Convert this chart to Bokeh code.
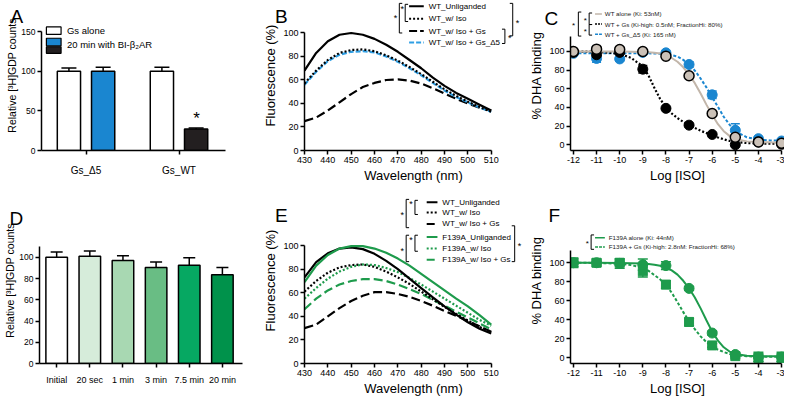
from bokeh.plotting import figure
from bokeh.layouts import row, column
from bokeh.models import FixedTicker, Label, Range1d, Title
from bokeh.embed import file_html
from bokeh.resources import INLINE

FONT = "Liberation Sans"

# ---------------- Panel A data ----------------
a_groups = ["Gs_Δ5", "Gs_WT"]
a_series = ["Gs alone", "20 min with BI-β₂AR"]
a_gs_alone = [100, 100]
a_gs_alone_err = [4, 5]
a_with_bi = [100, 27]
a_with_bi_err = [5, 1.5]
a_yticks = [0, 50, 100, 150]

# ---------------- Panels B / E data ----------------
wavelength = [430, 435, 440, 445, 450, 455, 460, 465, 470, 475, 480, 485, 490, 495, 500, 505, 510]
wl_ticks = [430, 440, 450, 460, 470, 480, 490, 500, 510]
pct_ticks = [0, 20, 40, 60, 80, 100]

b_names = ["WT_Unliganded", "WT_w/ Iso", "WT_w/ Iso + Gs", "WT_w/ Iso + Gs_Δ5"]
b_wt_unlig = [68, 83, 93, 98.5, 100, 98.5, 95, 90, 84, 77, 70, 62, 55, 49, 44, 39, 34]
b_wt_iso = [57, 68, 77, 83, 85.5, 86, 84.5, 81, 76.5, 71, 65, 58.5, 52, 46.5, 41.5, 37, 33]
b_wt_iso_gs = [25, 28, 34, 41, 48, 54, 57.5, 60, 60.5, 59.5, 57, 53, 48.5, 44, 40, 36.5, 34]
b_wt_iso_gs_d5 = [56, 67, 76, 81.5, 84, 84.5, 83.5, 80, 75.5, 70, 64, 57.5, 51, 45.5, 41, 36.5, 33]

e_names = ["WT_Unliganded", "WT_w/ Iso", "WT_w/ Iso + Gs",
           "F139A_Unliganded", "F139A_w/ Iso", "F139A_w/ Iso + Gs"]
e_wt_unlig = [73, 86, 93.5, 97.5, 98.5, 97, 93, 87, 80, 72, 64, 56, 48.5, 41.5, 35, 29.5, 25.5]
e_wt_iso = [61, 70, 77, 81.5, 83.5, 84, 82, 78, 73, 67.5, 61, 54.5, 48, 42, 36.5, 31, 26.5]
e_wt_iso_gs = [30, 33, 40, 47, 53, 57.5, 60.5, 60.5, 59, 56.5, 53, 49, 44.5, 40.5, 36, 31.5, 27]
e_f_unlig = [69, 83, 92, 97.5, 99.5, 99.5, 97.5, 94, 89, 83, 76, 69, 62, 55, 48.5, 41, 33]
e_f_iso = [55, 64, 72, 78, 82, 84, 83.5, 81, 77.5, 72.5, 67, 61, 55, 49, 43, 37, 32]
e_f_iso_gs = [46, 55, 62, 67, 70, 71.5, 71.5, 70, 67, 63, 59, 54, 49, 44, 39, 34, 29]

# ---------------- Panels C / F data ----------------
log_iso = [-12, -11, -10, -9, -8, -7, -6, -5, -4, -3]
iso_labels = ["-12", "-11", "-10", "-9", "-8", "-7", "-6", "-5", "-4", "-3"]
fit_log_iso = [-12, -11, -10, -9.5, -9, -8.75, -8.5, -8.25, -8, -7.75, -7.5, -7.25, -7,
               -6.75, -6.5, -6.25, -6, -5.75, -5.5, -5.25, -5, -4.5, -4, -3.5, -3]

c_names = ["WT alone (Ki: 53nM)", "WT + Gs (Ki-high: 0.5nM; FractionHi: 80%)", "WT + Gs_Δ5 (Ki: 165 nM)"]
c_wt_alone = [100, 102.5, 102, 100, 95, 74, 33.5, 8, 3, 1.5]
c_wt_alone_err = [1, 2, 3, 1, 1, 1, 1.5, 1, 1, 1]
c_wt_gs = [99, 96.5, 99, 81, 39, 21, 11, 0, 3, 0.5]
c_wt_gs_err = [1, 2, 2, 4, 1, 1, 1, 1, 1, 1]
c_wt_gs_d5 = [98, 92.5, 92, 99, 98.5, 86, 53.5, 15.5, 6.5, 4]
c_wt_gs_d5_err = [1, 4, 2, 1, 1, 3, 4, 7, 2, 2]
c_fit_wt_alone = [100, 100, 100, 99.8, 99.5, 99.2, 98.6, 97.7, 96, 93, 89, 83, 75,
                  66, 55, 43, 32, 22, 14.5, 9.5, 6.2, 3.6, 2.8, 2.6, 2.5]
c_fit_wt_gs = [100, 99.8, 97.5, 93, 84, 74, 61, 49, 40, 33.5, 28.5, 24.5, 21,
               18, 15, 12.5, 10, 7.8, 5.8, 4.2, 3, 1.8, 1.3, 1.1, 1]
c_fit_wt_gs_d5 = [98, 98, 98, 98, 98, 98, 97.8, 97.5, 97, 96, 94.5, 91, 86,
                  79.5, 71, 61.5, 51, 40.5, 30, 21.5, 14.5, 8, 5.5, 4.6, 4.3]

f_names = ["F139A alone (Ki: 44nM)", "F139A + Gs (Ki-high: 2.8nM: FractionHi: 68%)"]
f_alone = [100, 100, 99.3, 98, 97, 73, 26, 3.4, 0.7, 0.7]
f_alone_err = [5, 4, 5, 6, 4, 2, 2, 2, 5, 5]
f_gs = [100, 100, 100, 91, 77, 37.7, 13, 1.7, 0, 0]
f_gs_err = [4, 3, 3, 6, 4, 4, 2, 2, 4, 4]
f_fit_alone = [100, 100, 99.8, 99.6, 99.2, 98.7, 98, 96.8, 95, 92, 87.5, 81, 73,
               63.5, 52, 39.5, 27.5, 18, 11, 6.5, 4, 2.2, 1.7, 1.5, 1.5]
f_fit_gs = [100, 99.8, 99, 97.5, 94.5, 91.5, 87, 82.5, 76.5, 68.5, 58.5, 48, 38.5,
            30, 22.5, 16.5, 12, 8.5, 6, 4, 2.8, 1.6, 1.1, 1, 1]

# ---------------- Panel D data ----------------
d_times = ["Initial", "20 sec", "1 min", "3 min", "7.5 min", "20 min"]
d_vals = [100, 101, 97, 90.5, 92.5, 83.5]
d_err = [5, 5, 4.5, 5, 7, 7]
d_colors = ["#ffffff", "#d6ecda", "#a8d8b2", "#69bd84", "#06a862", "#00924b"]

BLUE = "#1a86d0"
BLUE_L = "#2f9fe4"
DARK = "#231f20"
GREEN = "#1e9b4c"
TAN_FILL = "#cbc1b7"
TAN_LINE = "#c2b6aa"

# ---------------- layout helpers ----------------
SX = 784 / 800
SY = 399 / 415


def PX(rx):
    return 8 + SX * rx


def PY(ry):
    return 8 + SY * ry


class Panel:
    def __init__(self, box, frame, xcal, ycal):
        self.xcal, self.ycal = xcal, ycal
        L, T, R, B = round(PX(box[0])), round(PY(box[1])), round(PX(box[2])), round(PY(box[3]))
        fl, ft, fr, fb = round(PX(frame[0])), round(PY(frame[1])), round(PX(frame[2])), round(PY(frame[3]))
        self.L, self.T, self.fl, self.ft = L, T, fl, ft
        p = figure(width=R - L, height=B - T, title=None,
                   x_range=Range1d(self.X(frame[0]), self.X(frame[2])),
                   y_range=Range1d(self.Y(frame[3]), self.Y(frame[1])),
                   min_border_left=fl - L, min_border_right=R - fr,
                   min_border_top=ft - T, min_border_bottom=B - fb,
                   output_backend="svg", toolbar_location=None, tools="")
        p.outline_line_color = None
        p.xgrid.visible = False
        p.ygrid.visible = False
        p.background_fill_color = "white"
        p.border_fill_color = "white"
        self.p = p

    def X(self, rx):
        (p1, v1), (p2, v2) = self.xcal
        return v1 + (rx - p1) * (v2 - v1) / (p2 - p1)

    def Y(self, ry):
        (p1, v1), (p2, v2) = self.ycal
        return v1 + (ry - p1) * (v2 - v1) / (p2 - p1)

    def text(self, rx, ry, s, size, align="left", baseline="middle", color="black", bold=False):
        self.p.add_layout(Label(x=self.X(rx), y=self.Y(ry), text=s, text_font=FONT,
                                text_font_size=f"{size}px", text_align=align,
                                text_baseline=baseline, text_color=color,
                                text_font_style="bold" if bold else "normal"))

    def star(self, rx, ry, size=9):
        self.text(rx, ry + 0.22 * size, "*", size, align="center")

    def letter(self, s, rx, ry_cap_bottom, size=19):
        # panel letter drawn as a Title in the "above" panel (not clipped to the frame)
        sy = PY(ry_cap_bottom) + 0.21 * size + 5
        standoff = -2 * (sy - self.ft)
        offset = PX(rx) - self.fl + 7
        self.p.add_layout(Title(text=s, align="left", vertical_align="bottom",
                                standoff=standoff, offset=offset, text_font=FONT,
                                text_font_size=f"{size}px", text_font_style="normal",
                                text_color="black"), "above")

    def bracket(self, rx, ry0, ry1, d=1, arm=3):
        X, Y = self.X, self.Y
        self.p.line([X(rx + d * arm), X(rx), X(rx), X(rx + d * arm)],
                    [Y(ry0), Y(ry0), Y(ry1), Y(ry1)], line_color="black", line_width=1)

    def sample(self, rx0, rx1, ry, color, dash="solid", width=2):
        self.p.line([self.X(rx0), self.X(rx1)], [self.Y(ry), self.Y(ry)],
                    line_color=color, line_dash=dash, line_width=width)

    def axes(self, xticks, yticks, xbounds, ybounds, xlabel=None, ylabel=None,
             xoverrides=None, xtick_size=9, ytick_size=9, label_size=13,
             x_standoff=2, ylabel_standoff=2):
        p = self.p
        for ax in (p.xaxis[0], p.yaxis[0]):
            ax.axis_line_width = 1.5
            ax.axis_line_color = "black"
            ax.major_tick_line_width = 1.5
            ax.major_tick_line_color = "black"
            ax.major_tick_out = 4
            ax.major_tick_in = 0
            ax.minor_tick_line_color = None
            ax.major_label_text_font = FONT
            ax.major_label_text_color = "black"
            ax.axis_label_text_font = FONT
            ax.axis_label_text_font_style = "normal"
            ax.axis_label_text_font_size = f"{label_size}px"
            ax.axis_label_text_color = "black"
            ax.major_label_standoff = 2
            ax.axis_label_standoff = 2
        p.yaxis[0].axis_label_standoff = ylabel_standoff
        p.xaxis[0].major_label_standoff = x_standoff
        p.xaxis[0].major_label_text_font_size = f"{xtick_size}px"
        p.yaxis[0].major_label_text_font_size = f"{ytick_size}px"
        p.xaxis[0].ticker = FixedTicker(ticks=xticks)
        p.yaxis[0].ticker = FixedTicker(ticks=yticks)
        p.xaxis[0].bounds = xbounds
        p.yaxis[0].bounds = ybounds
        if xoverrides:
            p.xaxis[0].major_label_overrides = xoverrides
        if xlabel:
            p.xaxis[0].axis_label = xlabel
        if ylabel:
            p.yaxis[0].axis_label = ylabel


def up_errors(p, xs, tops, errs, cap):
    p.segment(x0=xs, y0=tops, x1=xs, y1=[t + e for t, e in zip(tops, errs)],
              line_color="black", line_width=1.5)
    p.scatter(xs, [t + e for t, e in zip(tops, errs)], marker="dash", size=cap,
              line_color="black", line_width=1.5)


def both_errors(p, xs, ys, errs, color, cap=9):
    lo = [y - e for y, e in zip(ys, errs)]
    hi = [y + e for y, e in zip(ys, errs)]
    p.segment(x0=xs, y0=lo, x1=xs, y1=hi, line_color=color, line_width=1.5)
    p.scatter(xs + xs, lo + hi, marker="dash", size=cap, line_color=color, line_width=1.5)


# ================= Panel A =================
A = Panel(box=(0, 0, 265, 205), frame=(42, 0, 230, 159),
          xcal=((87.5, 0), (182.5, 1)), ycal=((159, 0), (33, 150)))
pa = A.p
a_x = list(range(len(a_groups)))
A.axes(a_x, a_yticks, (A.X(42), A.X(230)), (0, 150),
       ylabel="Relative [³H]GDP counts", label_size=10.5, ytick_size=8.5,
       xoverrides={i: g for i, g in enumerate(a_groups)}, xtick_size=10, x_standoff=10,
       ylabel_standoff=0)
xa1 = [x - 0.184 for x in a_x]
xa2 = [x + 0.184 for x in a_x]
pa.vbar(x=xa1, top=a_gs_alone, width=0.25, fill_color="white", line_color="black", line_width=1.5)
pa.vbar(x=xa2, top=a_with_bi, width=0.25, fill_color=[BLUE, DARK], line_color="black", line_width=1.5)
up_errors(pa, xa1, a_gs_alone, a_gs_alone_err, 15)
up_errors(pa, xa2, a_with_bi, a_with_bi_err, 15)
for (y0, y1), col in zip([(28, 36), (40, 48), (49, 56)], ["white", BLUE, DARK]):
    pa.quad(left=A.X(47), right=A.X(62), bottom=A.Y(y1), top=A.Y(y0),
            fill_color=col, line_color="black", line_width=1.2)
A.text(68, 32, a_series[0], 9.5)
A.text(68, 46.5, a_series[1], 9.5)
A.star(200.5, 121, 17)
A.letter("A", 3, 18)

# ================= Panel B =================
Bp = Panel(box=(265, 0, 537, 205), frame=(310, 0, 533, 157),
           xcal=((310, 430), (501, 510)), ycal=((157, 0), (34, 100)))
pb = Bp.p
Bp.axes(wl_ticks, pct_ticks, (430, 510), (0, 100),
        xlabel="Wavelength (nm)", ylabel="Fluorescence (%)")
pb.line(wavelength, b_wt_iso_gs, line_color="black", line_width=2.2, line_dash="9 4")
pb.line(wavelength, b_wt_iso_gs_d5, line_color=BLUE_L, line_width=2.2, line_dash="5 2")
pb.line(wavelength, b_wt_iso, line_color="black", line_width=2.2, line_dash="2 2")
pb.line(wavelength, b_wt_unlig, line_color="black", line_width=2.2)
b_rows = [6, 19, 32, 44]
b_styles = [("black", "solid"), ("black", "2 2"), ("black", "8 3"), (BLUE_L, "5 2")]
for ry, name, (col, dash) in zip(b_rows, b_names, b_styles):
    Bp.sample(417, 432, ry, col, dash)
    Bp.text(437, ry, name, 8)
Bp.bracket(407, 3, 34, 1)
Bp.star(403, 16, 9)
Bp.bracket(413, 4, 22, 1)
Bp.star(410, 7, 9)
Bp.bracket(523, 3, 37, -1)
Bp.star(528, 22, 9)
Bp.bracket(515, 30, 45, -1)
Bp.star(520, 37, 9)
Bp.letter("B", 273, 18)

# ================= Panel C =================
C = Panel(box=(537, 0, 800, 205), frame=(582, 0, 800, 156),
          xcal=((585, -12), (797, -3)), ycal=((150, 0), (53, 100)))
pc = C.p
C.axes(log_iso, pct_ticks, (C.X(582), -3), (C.Y(156), C.Y(37)),
       xlabel="Log [ISO]", ylabel="% DHA binding",
       xoverrides={v: s for v, s in zip(log_iso, iso_labels)})
pc.line(fit_log_iso, c_fit_wt_gs_d5, line_color=BLUE, line_width=2, line_dash="3 2")
pc.line(fit_log_iso, c_fit_wt_gs, line_color="black", line_width=2.2, line_dash="2 2")
pc.line(fit_log_iso, c_fit_wt_alone, line_color=TAN_LINE, line_width=2)
both_errors(pc, log_iso, c_wt_gs_d5, c_wt_gs_d5_err, BLUE)
both_errors(pc, log_iso, c_wt_gs, c_wt_gs_err, "black")
both_errors(pc, log_iso, c_wt_alone, c_wt_alone_err, "black")
pc.scatter(log_iso, c_wt_gs_d5, size=10, fill_color=BLUE, line_color=BLUE)
pc.scatter(log_iso, c_wt_gs, size=10, fill_color="black", line_color="black")
pc.scatter(log_iso, c_wt_alone, size=10, fill_color=TAN_FILL, line_color="black", line_width=1.5)
c_rows = [14, 24.5, 35]
c_styles = [(TAN_LINE, "solid"), ("black", "2 1"), (BLUE, "3 1")]
for ry, name, (col, dash) in zip(c_rows, c_names, c_styles):
    C.sample(607, 614, ry, col, dash, 1.5)
    C.text(617, ry, name, 6.2, color="#222222")
C.bracket(590, 12, 37, 1)
C.star(585, 24.5, 8)
C.bracket(601, 13, 25, 1)
C.bracket(601, 25, 36, 1)
C.star(597, 19, 8)
C.star(597, 30, 8)
C.letter("C", 548, 20)

# ================= Panel D =================
D = Panel(box=(0, 205, 265, 415), frame=(40, 205, 247, 380.7),
          xcal=((57.5, 0), (226.5, 5)), ycal=((380.7, 0), (268.3, 100)))
pd_ = D.p
d_x = list(range(len(d_times)))
D.axes(d_x, pct_ticks, (D.X(40), D.X(247)), (0, 110),
       ylabel="Relative [³H]GDP counts", label_size=10.5, ytick_size=8.5,
       xoverrides={i: t for i, t in enumerate(d_times)}, x_standoff=7,
       ylabel_standoff=0)
pd_.vbar(x=d_x, top=d_vals, width=0.65, fill_color=d_colors, line_color="black", line_width=1.5)
up_errors(pd_, d_x, d_vals, d_err, 12)
D.letter("D", 2, 228)

# ================= Panel E =================
E = Panel(box=(265, 205, 537, 415), frame=(310, 205, 533, 381),
          xcal=((310, 430), (501, 510)), ycal=((381, 0), (256, 100)))
pe = E.p
E.axes(wl_ticks, pct_ticks, (430, 510), (0, 100),
       xlabel="Wavelength (nm)", ylabel="Fluorescence (%)")
pe.line(wavelength, e_wt_iso_gs, line_color="black", line_width=2.2, line_dash="9 4")
pe.line(wavelength, e_f_iso_gs, line_color=GREEN, line_width=2.2, line_dash="9 4")
pe.line(wavelength, e_wt_iso, line_color="black", line_width=2.2, line_dash="2 2")
pe.line(wavelength, e_f_iso, line_color=GREEN, line_width=2.2, line_dash="2 2")
pe.line(wavelength, e_wt_unlig, line_color="black", line_width=2.2)
pe.line(wavelength, e_f_unlig, line_color=GREEN, line_width=2.2)
e_rows = [210, 221, 233, 247, 259, 271]
e_styles = [("black", "solid"), ("black", "2 2"), ("black", "8 3"),
            (GREEN, "solid"), (GREEN, "2 2"), (GREEN, "8 3")]
for ry, name, (col, dash) in zip(e_rows, e_names, e_styles):
    E.sample(435, 446, ry, col, dash)
    E.text(451, ry, name, 8)
E.bracket(414, 207, 237, 1)
E.star(410, 222, 9)
E.bracket(423, 208, 223, 1)
E.star(419, 210, 9)
E.bracket(414, 245, 273, 1)
E.star(410, 260, 9)
E.bracket(423, 245, 262, 1)
E.star(419, 248, 9)
E.bracket(525, 235, 273, -1)
E.star(530, 254, 9)
E.letter("E", 273, 225)

# ================= Panel F =================
F = Panel(box=(537, 205, 800, 415), frame=(582, 205, 800, 378),
          xcal=((585, -12), (797, -3)), ycal=((372, 0), (273, 100)))
pf = F.p
F.axes(log_iso, pct_ticks, (F.X(582), -3), (F.Y(378), F.Y(260)),
       xlabel="Log [ISO]", ylabel="% DHA binding",
       xoverrides={v: s for v, s in zip(log_iso, iso_labels)})
pf.line(fit_log_iso, f_fit_gs, line_color=GREEN, line_width=2, line_dash="3 2")
pf.line(fit_log_iso, f_fit_alone, line_color=GREEN, line_width=2)
both_errors(pf, log_iso, f_gs, f_gs_err, GREEN, 10)
both_errors(pf, log_iso, f_alone, f_alone_err, GREEN, 10)
pf.scatter(log_iso, f_gs, marker="square", size=9, fill_color=GREEN, line_color=GREEN)
pf.scatter(log_iso, f_alone, size=10, fill_color=GREEN, line_color=GREEN)
f_rows = [247, 256.5]
f_styles = [(GREEN, "solid"), (GREEN, "3 1")]
for ry, name, (col, dash) in zip(f_rows, f_names, f_styles):
    F.sample(607, 617, ry, col, dash, 1.5)
    F.text(621, ry, name, 6.2, color="#222222")
F.bracket(603, 244, 259, 1)
F.star(599, 251.5, 8)
F.letter("F", 552, 225)

layout = column(row(pa, pb, pc), row(pd_, pe, pf))
open("out.html", "w").write(file_html(layout, INLINE))
